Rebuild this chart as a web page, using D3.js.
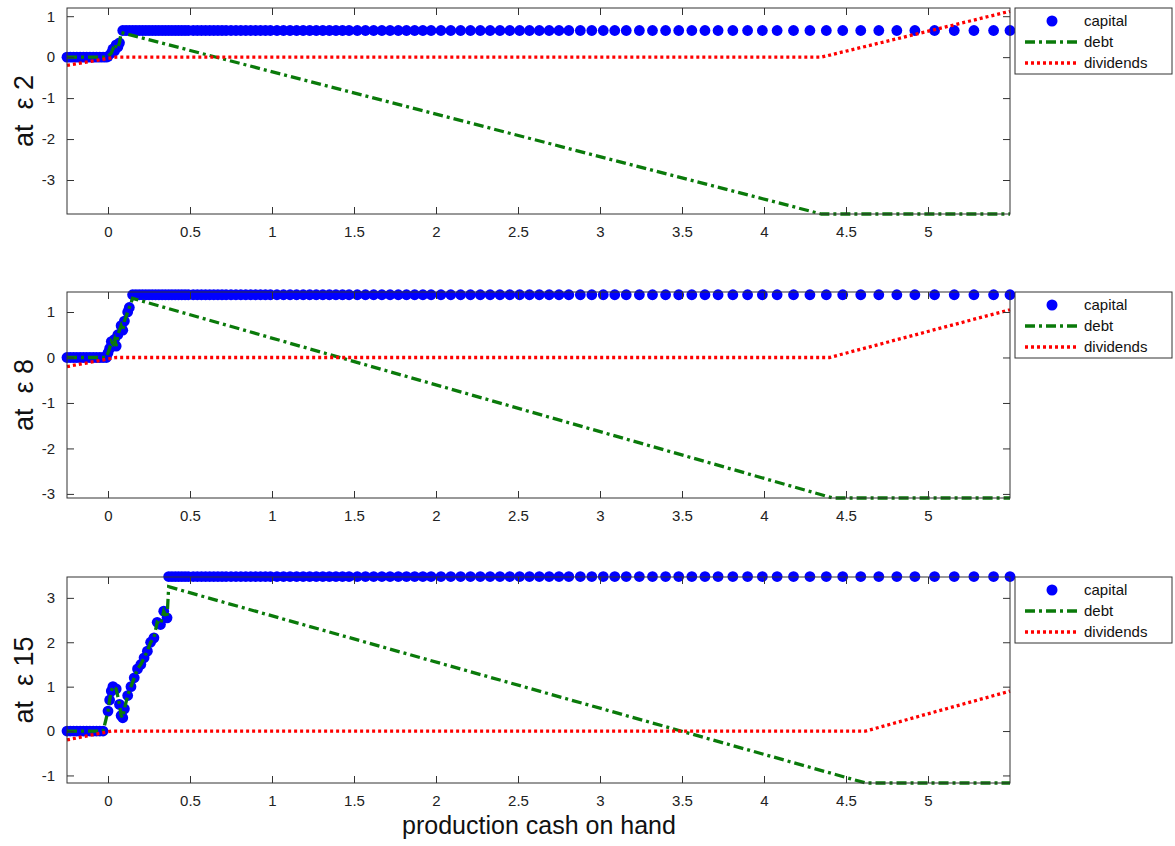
<!DOCTYPE html>
<html><head><meta charset="utf-8">
<script src="https://cdn.jsdelivr.net/npm/d3@7"></script>
<style>body{margin:0;background:#fff;font-family:Arial,"Liberation Sans",sans-serif}</style>
</head><body><svg id="chart" width="1175" height="846"></svg>
<script>
// state grid (cash on hand)
const grid = [-0.25,-0.23,-0.21,-0.19,-0.17,-0.15,-0.13,-0.11,-0.09,-0.07,-0.05,-0.03,-0.01,
  0.01,0.03,0.05,0.07,0.09,0.11,0.13,0.15,0.17,0.19,0.21,0.23,0.25,0.27,0.29,0.31,0.33,0.35,0.37,0.39,0.41,0.43,0.45,0.47,0.49,
  0.52,0.545,0.57,0.595,0.62,0.645,0.67,0.695,0.72,0.75,0.78,0.81,0.84,0.87,0.9,0.93,0.96,0.99,
  1.03,1.07,1.11,1.15,1.19,1.23,1.27,1.31,1.35,1.39,1.43,1.47,1.52,1.57,1.62,1.67,1.72,1.77,1.82,1.87,1.92,1.97,
  2.03,2.09,2.15,2.21,2.27,2.33,2.39,2.45,2.51,2.57,2.63,2.69,2.75,2.81,2.88,2.95,
  3.02,3.09,3.16,3.24,3.32,3.40,3.48,3.56,3.64,3.72,3.81,3.90,3.99,
  4.08,4.18,4.28,4.38,4.48,4.59,4.70,4.81,4.92,5.04,5.16,5.28,5.40,5.5];

const panelLabels = ["at  \u03b5 2", "at  \u03b5 8", "at  \u03b5 15"];
const yDomains = [[-3.83, 1.2], [-3.09, 1.44], [-1.17, 3.47]];
const yTicks = [[-3,-2,-1,0,1], [-3,-2,-1,0,1], [-1,0,1,2,3]];
const xTicks = [0,0.5,1,1.5,2,2.5,3,3.5,4,4.5,5];
const xTickLabels = ["0","0.5","1","1.5","2","2.5","3","3.5","4","4.5","5"];

// capital: zero below start, irregular transition points, plateau from kink on
const capStart = [0.0, 0.0, -0.02];
const capKink = [0.08, 0.15, 0.37];
const capPlateau = [0.65, 1.38, 3.48];
const capRise = [
  [[0.0,0.02],[0.02,0.1],[0.03,0.2],[0.04,0.15],[0.05,0.3],[0.06,0.25],[0.07,0.35]],
  [[0.0,0.1],[0.01,0.2],[0.02,0.35],[0.03,0.3],[0.04,0.4],[0.05,0.25],[0.06,0.5],[0.08,0.7],[0.09,0.6],[0.1,0.8],[0.12,1.0],[0.13,1.1]],
  [[0.0,0.45],[0.01,0.7],[0.02,0.9],[0.03,1.0],[0.05,0.95],[0.07,0.6],[0.08,0.35],[0.09,0.3],[0.1,0.5],[0.12,0.8],
   [0.14,1.0],[0.16,1.2],[0.18,1.4],[0.2,1.5],[0.22,1.65],[0.24,1.8],[0.26,2.0],[0.28,2.1],[0.3,2.45],[0.32,2.4],[0.34,2.7],[0.36,2.55]]
];
// debt breakpoints (after the transition)
const debtTail = [
  [[0.08,0.6],[4.35,-3.83],[5.5,-3.83]],
  [[0.15,1.3],[4.42,-3.09],[5.5,-3.09]],
  [[0.37,3.25],[4.62,-1.17],[5.5,-1.17]]
];
// dividends breakpoints
const dividends = [
  [[-0.25,-0.2],[0.05,0],[4.35,0],[5.5,1.12]],
  [[-0.25,-0.2],[0.05,0],[4.4,0],[5.5,1.05]],
  [[-0.25,-0.2],[0.02,0],[4.62,0],[5.5,0.9]]
];

const svg = d3.select("#chart");
const left = 67, right = 1010;
const tops = [8, 292, 577], ph = 206;
const x = d3.scaleLinear().domain([-0.25, 5.5]).range([left, right]);
const BLUE = "#0000ff", GREEN = "#0a7a0a", RED = "#ff0000";
const FONT = "Arial, Liberation Sans, sans-serif";

panelLabels.forEach((lab, p) => {
  const y = d3.scaleLinear().domain(yDomains[p]).range([tops[p] + ph, tops[p]]);
  const g = svg.append("g");
  const line = d3.line().x(d => x(d[0])).y(d => y(d[1]));

  // capital points
  const cap = [];
  grid.forEach(v => { if (v < capStart[p]) cap.push([v, 0]); });
  capRise[p].forEach(d => cap.push(d));
  grid.forEach(v => { if (v >= capKink[p]) cap.push([v, capPlateau[p]]); });
  g.selectAll("circle").data(cap).join("circle")
    .attr("cx", d => x(d[0])).attr("cy", d => y(d[1])).attr("r", 5.4).attr("fill", BLUE);

  // debt
  const debt = cap.filter(d => d[0] < capKink[p]).concat(debtTail[p]);
  g.append("path").attr("d", line(debt)).attr("fill", "none").attr("stroke", GREEN)
    .attr("stroke-width", 3.3).attr("stroke-dasharray", "10,4,3,4");
  // dividends
  g.append("path").attr("d", line(dividends[p])).attr("fill", "none").attr("stroke", RED)
    .attr("stroke-width", 3.3).attr("stroke-dasharray", "3,3");

  // frame + ticks
  g.append("rect").attr("x", left).attr("y", tops[p]).attr("width", right - left).attr("height", ph)
    .attr("fill", "none").attr("stroke", "#333").attr("stroke-width", 1);
  const ax = g.append("g").attr("transform", `translate(0,${tops[p] + ph})`)
    .call(d3.axisBottom(x).tickValues(xTicks).tickFormat((d, i) => xTickLabels[i]).tickSizeInner(-7).tickSizeOuter(0).tickPadding(12));
  const axT = g.append("g").attr("transform", `translate(0,${tops[p]})`)
    .call(d3.axisTop(x).tickValues(xTicks).tickFormat("").tickSizeInner(-7).tickSizeOuter(0));
  const ay = g.append("g").attr("transform", `translate(${left},0)`)
    .call(d3.axisLeft(y).tickValues(yTicks[p]).tickFormat(d => String(d)).tickSizeInner(-7).tickSizeOuter(0).tickPadding(12));
  const ayR = g.append("g").attr("transform", `translate(${right},0)`)
    .call(d3.axisRight(y).tickValues(yTicks[p]).tickFormat("").tickSizeInner(-7).tickSizeOuter(0));
  [ax, axT, ay, ayR].forEach(a => {
    a.select(".domain").remove();
    a.selectAll("line").attr("stroke", "#333");
    a.selectAll("text").attr("font-size", 15).attr("fill", "#222").attr("font-family", FONT);
  });

  g.append("text").attr("transform", `translate(33,${tops[p] + ph / 2}) rotate(-90)`)
    .attr("text-anchor", "middle").attr("font-size", 27).attr("fill", "#111")
    .attr("font-family", FONT).style("white-space", "pre").text(lab);

  // legend
  const lg = g.append("g").attr("transform", `translate(1015,${tops[p]})`);
  lg.append("rect").attr("width", 157).attr("height", 66).attr("fill", "#fff").attr("stroke", "#333");
  const items = [["capital", "dot"], ["debt", GREEN], ["dividends", RED]];
  items.forEach((it, i) => {
    const yy = 13 + i * 21;
    if (it[1] === "dot") lg.append("circle").attr("cx", 37).attr("cy", yy).attr("r", 5.5).attr("fill", BLUE);
    else lg.append("line").attr("x1", 10).attr("x2", 64).attr("y1", yy).attr("y2", yy).attr("stroke", it[1])
      .attr("stroke-width", 3.3).attr("stroke-dasharray", i === 1 ? "10,4,3,4" : "3,3");
    lg.append("text").attr("x", 69).attr("y", yy + 5).attr("font-size", 15)
      .attr("font-family", FONT).attr("fill", "#111").text(it[0]);
  });
});

svg.append("text").attr("x", 539).attr("y", 834).attr("text-anchor", "middle")
  .attr("font-size", 25).attr("font-family", FONT).attr("fill", "#111").text("production cash on hand");
</script></body></html>
